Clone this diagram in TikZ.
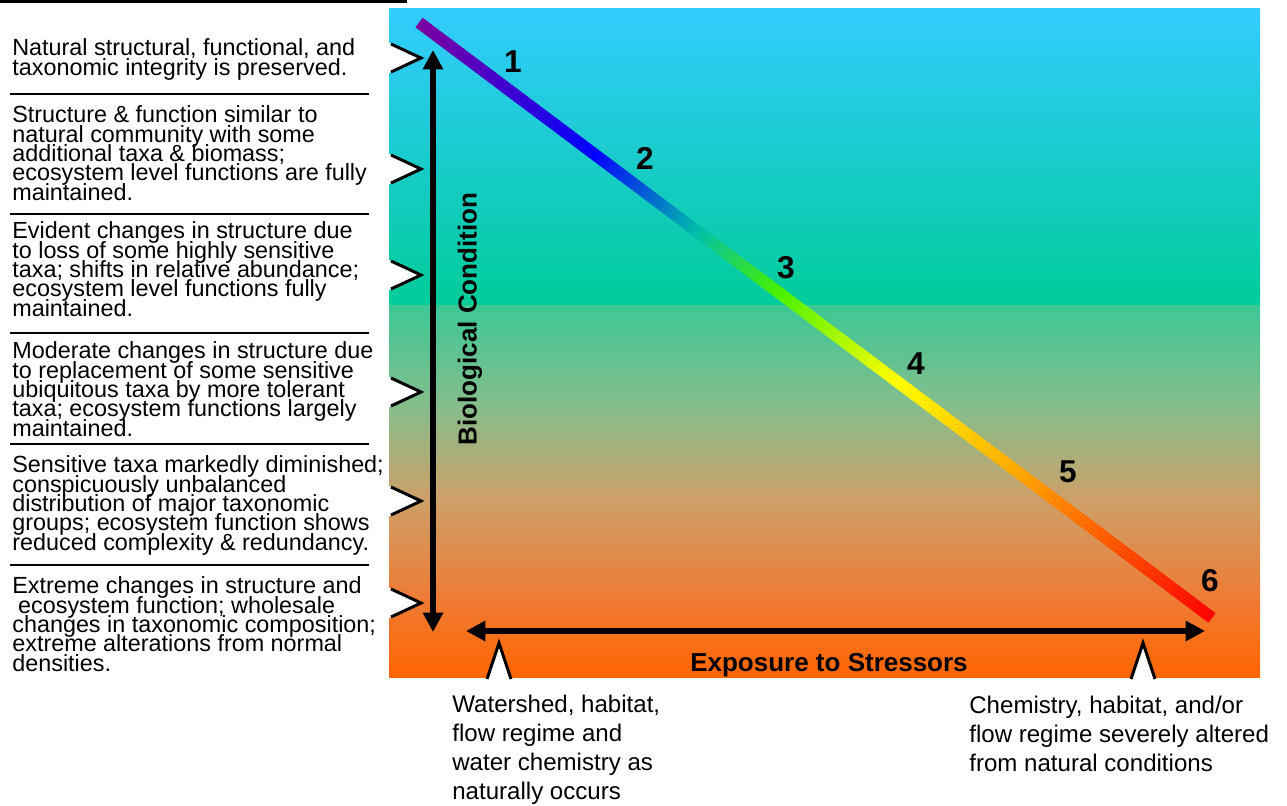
\documentclass[tikz,border=0pt]{standalone}
\usepackage{fontspec}
\setmainfont{Liberation Sans}
\usetikzlibrary{positioning,arrows.meta}
\definecolor{bgsky}{RGB}{51,204,255}
\definecolor{bgteal}{RGB}{0,204,153}
\definecolor{bggreen}{RGB}{60,200,150}
\definecolor{bgsage}{RGB}{130,190,140}
\definecolor{bgtan}{RGB}{205,160,105}
\definecolor{bgamber}{RGB}{240,122,50}
\definecolor{bgorange}{RGB}{255,102,0}
\definecolor{rbviolet}{RGB}{125,0,160}
\definecolor{rbblue}{RGB}{0,0,255}
\definecolor{rbcyan}{RGB}{0,190,170}
\definecolor{rbgreen}{RGB}{70,240,0}
\definecolor{rbyellow}{RGB}{255,255,0}
\definecolor{rborange}{RGB}{255,170,0}
\definecolor{rbred}{RGB}{255,0,0}
\pgfdeclareverticalshading{lowerbg}{100bp}{color(0bp)=(bgorange); color(25bp)=(bgorange);
  color(35bp)=(bgamber); color(49bp)=(bgtan); color(62bp)=(bgsage); color(75bp)=(bggreen);
  color(100bp)=(bggreen)}
\pgfdeclarehorizontalshading{rainbowbar}{100bp}{color(0bp)=(rbviolet); color(25bp)=(rbviolet);
  color(36bp)=(rbblue); color(42.5bp)=(rbcyan); color(47.5bp)=(rbgreen); color(55bp)=(rbyellow);
  color(62.5bp)=(rborange); color(75bp)=(rbred); color(100bp)=(rbred)}
\tikzset{
  desc/.style={anchor=north west,inner sep=0pt,align=left,
               font={\fontsize{13.3pt}{11pt}\selectfont\lineskiplimit=-100pt}},
  cond/.style={anchor=north west,inner sep=0pt,align=left,
               font={\fontsize{13.7pt}{16.4pt}\selectfont}},
  num/.style={inner sep=0pt,font={\fontsize{18pt}{20pt}\selectfont\bfseries}},
  axlbl/.style={inner sep=0pt,font={\fontsize{14.8pt}{16pt}\selectfont\bfseries}},
  axis/.style={{Triangle[length=11pt,width=11pt]}-{Triangle[length=11pt,width=11pt]},
               line width=3.4pt},
  rule/.style={line width=1.5pt},
  chev/.style={line width=1.7pt,line join=miter},
}
\begin{document}
\begin{tikzpicture}[x=0.02cm,y=-0.02cm]
\useasboundingbox (0,0) rectangle (1287,805);

\shade[top color=bgsky,bottom color=bgteal] (389,8) rectangle (1260,305.5);
\shade[shading=lowerbg] (389,305) rectangle (1260,677);

\begin{scope}[transform canvas={shift={(419,22.5)},rotate=-36.9}]
  \shade[shading=rainbowbar] (0,-6) rectangle (991.7,6);
\end{scope}

\node[num] (n1) at (513,62) {1};
\node[num] (n2) at (645,158) {2};
\node[num] (n3) at (786,268) {3};
\node[num] (n4) at (916,364) {4};
\node[num] (n5) at (1068,472) {5};
\node[num] (n6) at (1210,581) {6};

\foreach \y in {58,169,275,392,501,603}{
  \fill[white] (389,\y-15) -- (421,\y) -- (389,\y+15) -- cycle;
  \draw[chev] (391,\y-14) -- (421,\y) -- (391,\y+14);
}
\foreach \x in {499,1143}{
  \fill[white] (\x-13,679) -- (\x,643) -- (\x+13,679) -- cycle;
  \draw[chev] (\x-12,679) -- (\x,643) -- (\x+12,679);
}

\coordinate (bioTop) at (433,50);
\coordinate (bioBot) at (433,632);
\coordinate (expL) at (466,631);
\coordinate (expR) at (1205,631);
\draw[axis] (bioBot) -- (bioTop);
\draw[axis] (expL) -- (expR);

\node[axlbl,rotate=90] (bio) at (470,319) {Biological Condition};
\node[axlbl] (expo) at (829,665) {Exposure to Stressors};

\draw[line width=1.7pt] (0,1.5) -- (407,1.5);
\foreach \y in {94,214,333,444,565}
  \draw[rule] (10,\y) -- (369,\y);

\node[desc] (d1) at (12,38.6) {Natural structural, functional, and\\taxonomic integrity is preserved.};
\node[desc] (d2) at (12,105.6) {Structure \& function similar to\\natural community with some\\additional taxa \& biomass;\\ecosystem level functions are fully\\maintained.};
\node[desc] (d3) at (12,221.6) {Evident changes in structure due\\to loss of some highly sensitive\\taxa; shifts in relative abundance;\\ecosystem level functions fully\\maintained.};
\node[desc] (d4) at (12,341.6) {Moderate changes in structure due\\to replacement of some sensitive\\ubiquitous taxa by more tolerant\\taxa; ecosystem functions largely\\maintained.};
\node[desc] (d5) at (12,455.6) {Sensitive taxa markedly diminished;\\conspicuously unbalanced\\distribution of major taxonomic\\groups; ecosystem function shows\\reduced complexity \& redundancy.};
\node[desc] (d6) at (12,576.6) {Extreme changes in structure and\\\hspace{0.25em}ecosystem function; wholesale\\changes in taxonomic composition;\\extreme alterations from normal\\densities.};

\node[cond] (natural) at (452,695) {Watershed, habitat,\\flow regime and\\water chemistry as\\naturally occurs};
\node[cond] (altered) at (969,696) {Chemistry, habitat, and/or\\flow regime severely altered\\from natural conditions};
\end{tikzpicture}
\end{document}
